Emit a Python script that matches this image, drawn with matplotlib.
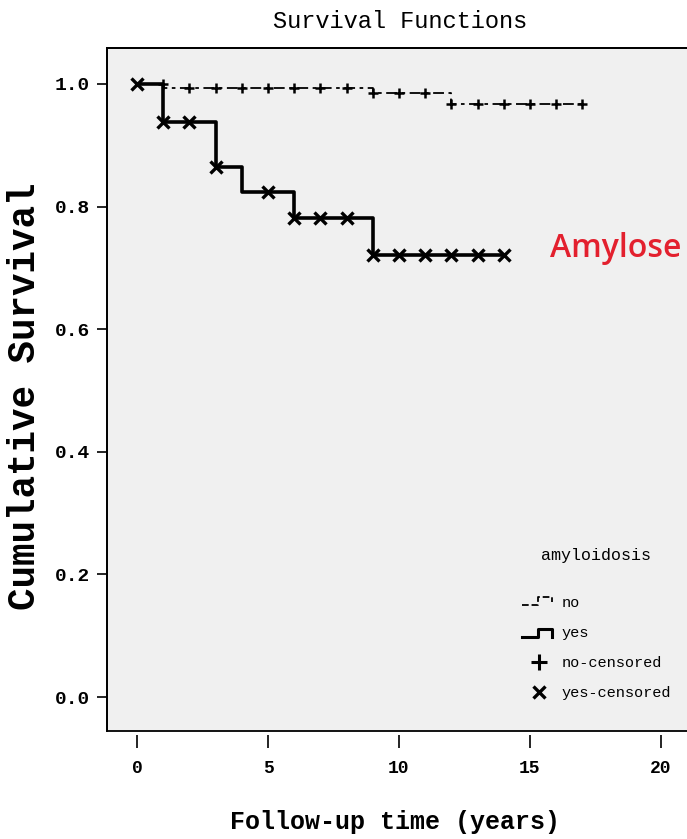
import numpy as np
import matplotlib.pyplot as plt
from matplotlib.lines import Line2D
from matplotlib.legend_handler import HandlerBase

# step curves (time in years, cumulative survival)
no_t = [0, 1, 9, 12, 17]
no_s = [1.0, 0.994, 0.985, 0.967, 0.967]
yes_t = [0, 1, 3, 4, 6, 9, 14]
yes_s = [1.0, 0.938, 0.865, 0.824, 0.781, 0.721, 0.721]

# censored observations
no_cens_t = [1, 2, 3, 4, 5, 6, 7, 8, 9, 10, 11, 12, 13, 14, 15, 16, 17]
no_cens_s = [1.0, 0.994, 0.994, 0.994, 0.994, 0.994, 0.994, 0.994,
             0.985, 0.985, 0.985, 0.967, 0.967, 0.967, 0.967, 0.967, 0.967]
yes_cens_t = [0, 1, 2, 3, 5, 6, 7, 8, 9, 10, 11, 12, 13, 14]
yes_cens_s = [1.0, 0.938, 0.938, 0.865, 0.824, 0.781, 0.781, 0.781,
              0.721, 0.721, 0.721, 0.721, 0.721, 0.721]

x_ticks = [0, 5, 10, 15, 20]
y_ticks = [0.0, 0.2, 0.4, 0.6, 0.8, 1.0]

mono = 'Liberation Mono'
no_dash = (0, (6, 2.5, 2, 2.5))


class StepHandler(HandlerBase):
    # draws the little step glyph SPSS uses in its legend
    def __init__(self, fx, fy, **kw):
        super().__init__(**kw)
        self.fx = fx
        self.fy = fy

    def create_artists(self, legend, orig_handle, xdescent, ydescent,
                       width, height, fontsize, trans):
        xs = [-xdescent + f * width for f in self.fx]
        ys = [-ydescent + f * height for f in self.fy]
        ln = Line2D(xs, ys, color=orig_handle.get_color(),
                    linestyle=orig_handle.get_linestyle(),
                    linewidth=orig_handle.get_linewidth(), transform=trans)
        return [ln]


W, H = 687, 839
fig = plt.figure(figsize=(W / 100, H / 100), dpi=100)
px_per_year = 26.2
ax_left, ax_bottom, ax_w, ax_h = 107, 108, 606, 683
ax = fig.add_axes([ax_left / W, ax_bottom / H, ax_w / W, ax_h / H])
ax.set_facecolor('#f0f0f0')

x0 = -30 / px_per_year
ax.set_xlim(x0, x0 + ax_w / px_per_year)
ax.set_ylim(-34 / 613, 1 + 36 / 613)

ax.step(no_t, no_s, where='post', color='black', linestyle=no_dash, linewidth=1.3)
ax.step(yes_t, yes_s, where='post', color='black', linewidth=2.6)
ax.plot(no_cens_t, no_cens_s, linestyle='none', marker='+', markersize=7,
        markeredgewidth=1.8, color='black')
ax.plot(yes_cens_t, yes_cens_s, linestyle='none', marker='x', markersize=8,
        markeredgewidth=2.4, color='black')

ax.text(15.75, 0.718, 'Amylose', color='#e3202e', fontsize=23,
        family='Open Sans', fontweight='semibold', ha='left', va='baseline')

# frame: bottom spine pushed outward so the x ticks float under the box
for side in ['left', 'top', 'right']:
    ax.spines[side].set_linewidth(1.3)
ax.spines['bottom'].set_position(('outward', 3))
ax.spines['bottom'].set_visible(False)
ax.patch.set_edgecolor('black')
ax.patch.set_linewidth(1.3)

ax.set_xticks(x_ticks)
ax.set_yticks(y_ticks)
ax.set_yticklabels(['%.1f' % v for v in y_ticks])
ax.tick_params(axis='x', direction='out', length=9, width=1.2, pad=9,
               labelsize=13)
ax.tick_params(axis='y', direction='out', length=7, width=1.2, pad=5,
               labelsize=14)
for lab in ax.get_xticklabels() + ax.get_yticklabels():
    lab.set_family(mono)
    lab.set_fontweight('bold')

ax.set_ylabel('Cumulative Survival', family=mono, fontsize=27, fontweight='bold')
ax.yaxis.set_label_coords(-82 / ax_w, (731 - 396) / ax_h)
ax.yaxis.label.set_va('center')
ax.set_xlabel('Follow-up time (years)', family=mono, fontsize=18, fontweight='bold')
ax.xaxis.set_label_coords((395 - ax_left) / ax_w, (731 - 822) / ax_h)
ax.xaxis.label.set_va('center')

fig.text(400 / W, 1 - 22 / H, 'Survival Functions', family=mono, fontsize=17,
         ha='center', va='center')

h_no = Line2D([], [], color='black', linestyle=no_dash, linewidth=1.3)
h_yes = Line2D([], [], color='black', linewidth=2.2)
h_nc = Line2D([], [], color='black', linestyle='none', marker='+',
              markersize=12, markeredgewidth=2.2)
h_yc = Line2D([], [], color='black', linestyle='none', marker='x',
              markersize=9, markeredgewidth=2.4)
leg = ax.legend([h_no, h_yes, h_nc, h_yc],
                ['no', 'yes', 'no-censored', 'yes-censored'],
                title='amyloidosis', frameon=False, loc='upper left',
                bbox_to_anchor=(508 / W, 1 - 534 / H),
                bbox_transform=fig.transFigure,
                prop={'family': mono, 'size': 11},
                title_fontproperties={'family': mono, 'size': 12},
                handlelength=2.3, handletextpad=0.3, labelspacing=1.05,
                handler_map={h_no: StepHandler([0, 0.45, 0.45, 0.85, 0.85],
                                               [0.2, 0.2, 0.9, 0.9, 0.5]),
                             h_yes: StepHandler([0, 0.45, 0.45, 0.85, 0.85],
                                                [0.0, 0.0, 0.8, 0.8, 0.0])})
leg._legend_box.sep = 24

fig.savefig('out.png', dpi=100)
